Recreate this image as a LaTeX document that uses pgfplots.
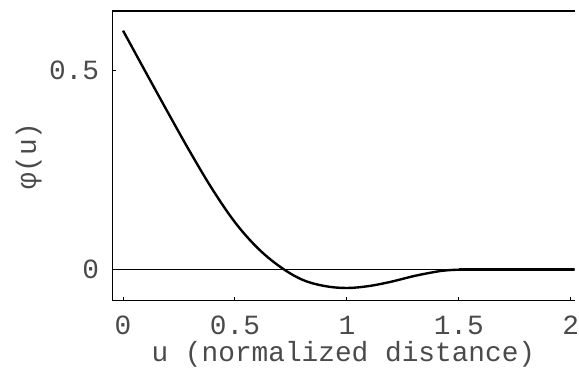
\documentclass[border=0pt]{standalone}
\usepackage{fontspec}
\setmainfont{Liberation Mono}
\usepackage{pgfplots}
\pgfplotsset{compat=1.18}
\definecolor{txt}{HTML}{4A4A4A}
\begin{document}
\begin{tikzpicture}
\begin{axis}[
  name=ax,
  scale only axis,
  width=466bp, height=292bp,
  xmin=-0.0488, xmax=2.018,
  ymin=-0.078, ymax=0.6496,
  axis y line*=left,
  axis line style={line width=1.2bp},
  xtick={0,0.5,1,1.5,2},
  ytick={0,0.5},
  xticklabels={0,0.5,1,1.5,2},
  yticklabels={0,0.5},
  xtick pos=lower, ytick pos=left,
  tick align=inside,
  major tick length=4bp,
  tick style={line width=1bp, black},
  font=\fontsize{28bp}{32bp}\selectfont,
  /pgf/number format/assume math mode=true,
  every tick label/.append style={text=txt, inner sep=0pt},
  xticklabel style={anchor=base, yshift=-34bp},
  yticklabel style={anchor=east, xshift=-13bp},
  xlabel={u (normalized distance)},
  ylabel={φ(u)},
  xlabel style={at={(axis description cs:0.5,0)}, anchor=base, yshift=-61bp, inner sep=0pt, text=txt},
  ylabel style={at={(axis description cs:-0.1803,0.5)}, anchor=center, inner sep=0pt, text=txt},
  clip=true,
]
\addplot[black, line width=1.2bp] coordinates {(-0.0488,0) (2.018,0)};
\addplot[black, line width=2.4bp, smooth, tension=0.6] coordinates {
(0.0,0.600) (0.1,0.497) (0.2,0.395) (0.3,0.295) (0.4,0.201) (0.5,0.119)
(0.6,0.055) (0.7,0.008) (0.8,-0.025) (0.9,-0.041) (1.0,-0.046)
(1.1,-0.041) (1.2,-0.030) (1.3,-0.016) (1.4,-0.005) (1.45,-0.0015) (1.5,0)
};
\addplot[black, line width=2.4bp] coordinates {(1.5,0) (2.018,0)};
\end{axis}
\path[use as bounding box] ([xshift=-113bp, yshift=11bp]ax.north west) rectangle ([yshift=-71bp]ax.south east);
\end{tikzpicture}
\end{document}
